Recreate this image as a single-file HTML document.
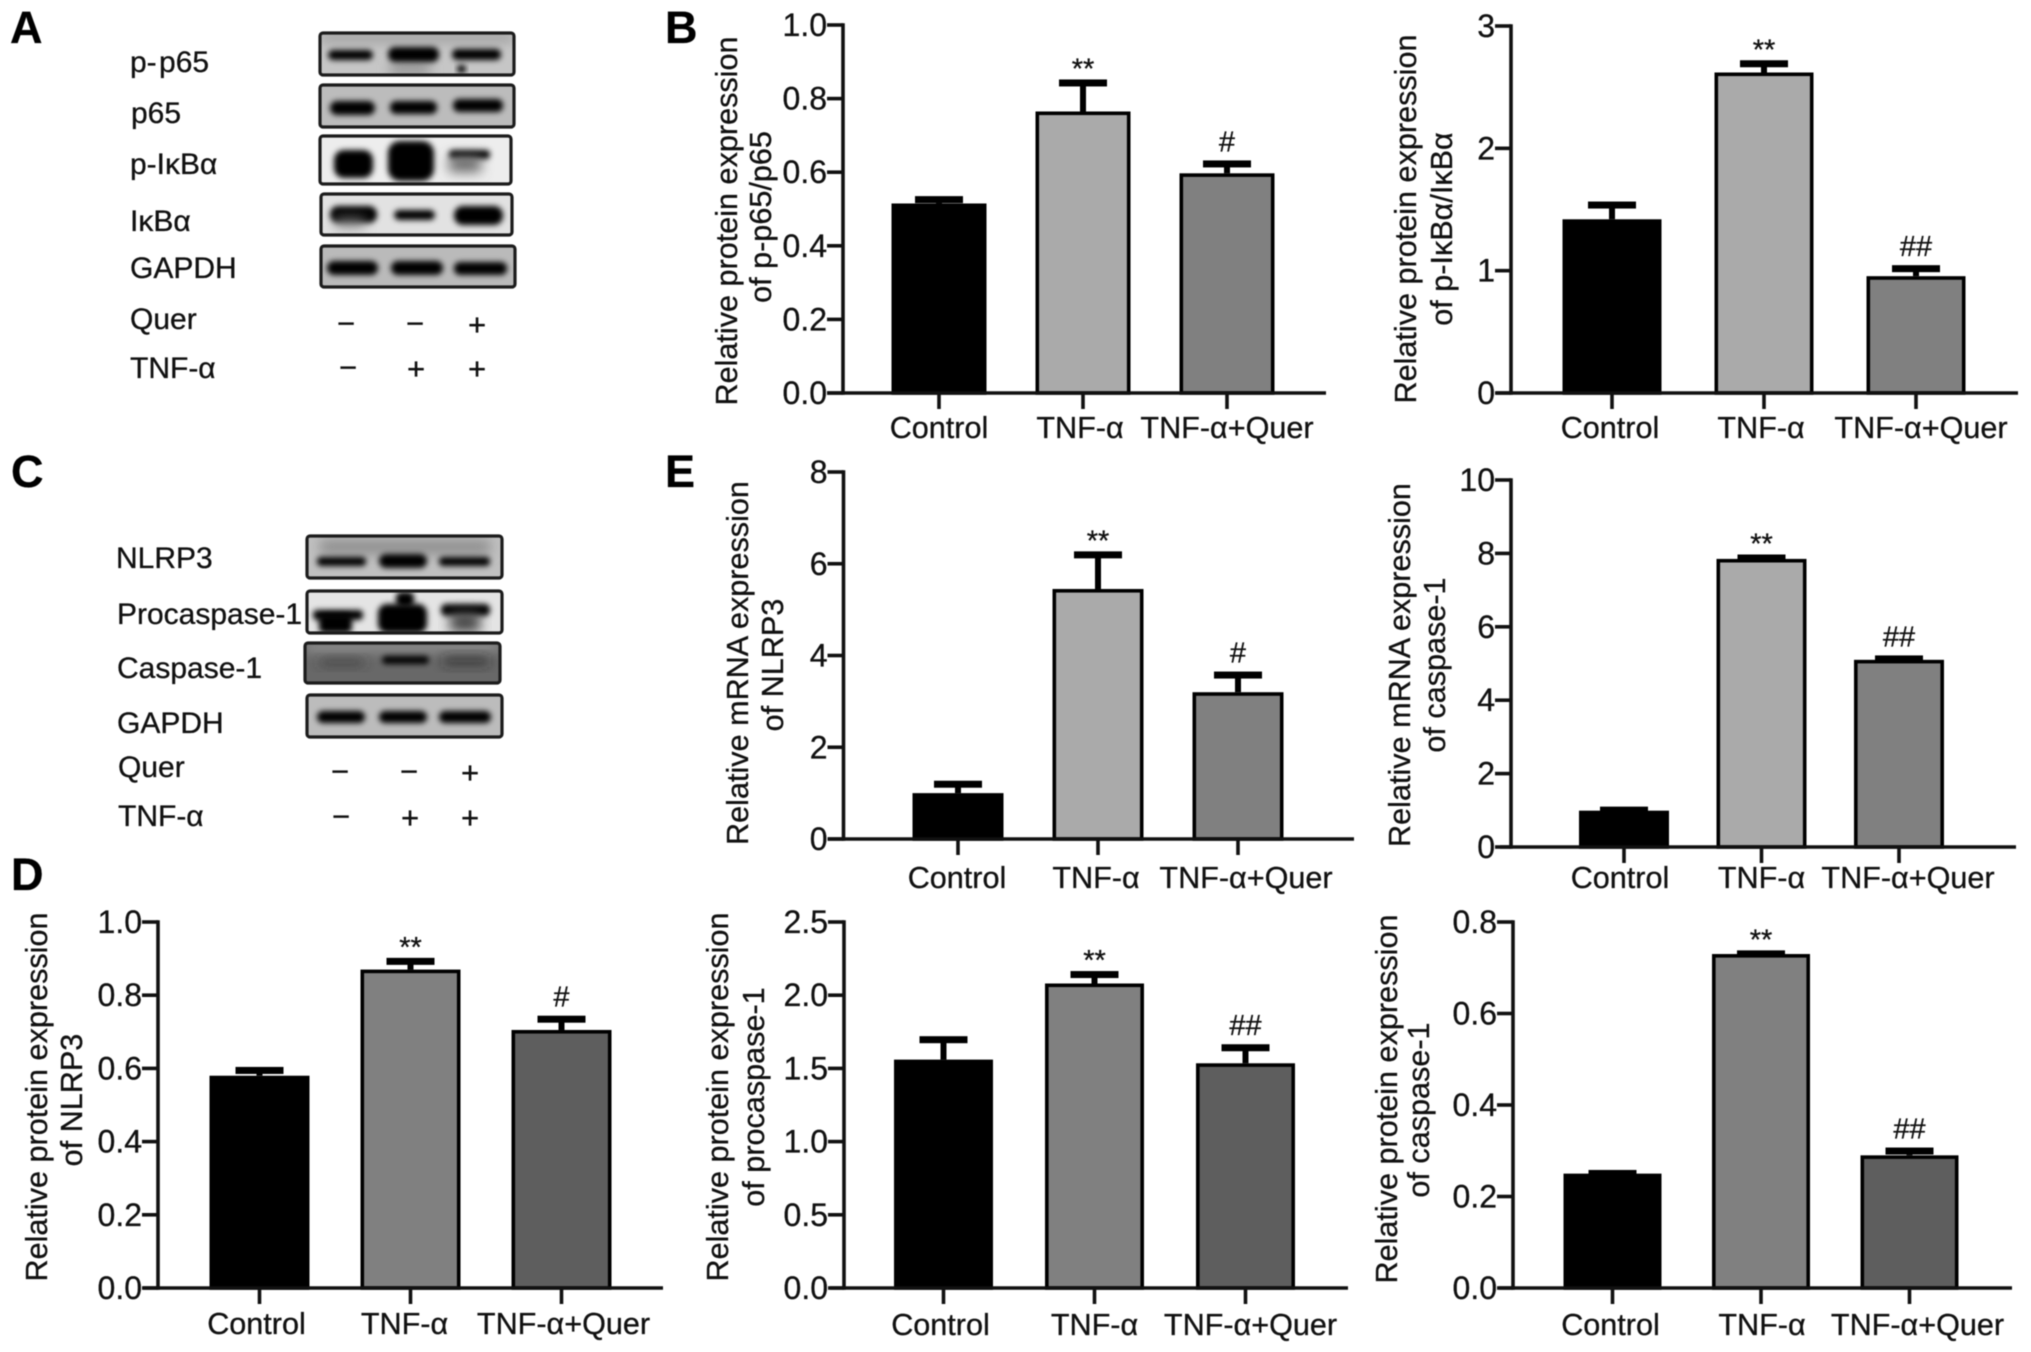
<!DOCTYPE html>
<html lang="en">
<head>
<meta charset="utf-8">
<title>Quercetin western blots and expression bar charts</title>
<style>
html,body{margin:0;padding:0;background:#fff;}
body{width:2031px;height:1352px;overflow:hidden;}
#figure{display:block;filter:blur(0.65px);}
text{font-family:"Liberation Sans","DejaVu Sans",sans-serif;fill:#111;stroke:#111;stroke-width:0.3;}
.letter{font-size:45px;font-weight:bold;fill:#000;}
.lab{font-size:30px;}
.sign{font-size:31px;text-anchor:middle;}
.box{fill:none;stroke:#1c1c1c;stroke-width:3.2;}
.band{fill:#000;filter:url(#bandBlur);}
.soft{filter:url(#softBlur);}
</style>
</head>
<body>
<svg id="figure" xmlns="http://www.w3.org/2000/svg" width="2031" height="1352" viewBox="0 0 2031 1352">
<defs>
<filter id="bandBlur" x="-30%" y="-120%" width="160%" height="340%"><feGaussianBlur stdDeviation="2.8"/></filter>
<filter id="softBlur" x="-40%" y="-150%" width="180%" height="400%"><feGaussianBlur stdDeviation="6"/></filter>
</defs>
<rect width="2031" height="1352" fill="#fff"/>

<text class="letter" x="10" y="43">A</text>
<text class="letter" x="665" y="43">B</text>
<text class="letter" x="11" y="487">C</text>
<text class="letter" x="11" y="890">D</text>
<text class="letter" x="665" y="487">E</text>

<!-- Panel A -->
<g>
<text class="lab" x="130" y="72" word-spacing="-6">p- p65</text>
<text class="lab" x="131" y="123">p65</text>
<text class="lab" x="130" y="174">p-IκBα</text>
<text class="lab" x="130" y="231">IκBα</text>
<text class="lab" x="130" y="278">GAPDH</text>
<text class="lab" x="130" y="329">Quer</text>
<text class="lab" x="130" y="378">TNF-α</text>

<g>
<svg x="320" y="33" width="194" height="42" viewBox="320 33 194 42">
<rect x="320" y="33" width="194" height="42" fill="#c6c6c6"/>
<rect class="soft" x="320" y="33" width="194" height="9" fill="#9a9a9a"/>
<rect class="soft" x="390" y="64" width="40" height="10" fill="#888"/>
<rect class="band" x="328" y="50" width="45" height="10" rx="5"/>
<rect class="band" x="388" y="47" width="51" height="15" rx="7"/>
<rect class="band" x="452" y="49" width="49" height="11" rx="5"/>
<rect class="band" x="457" y="65" width="9" height="8" rx="4"/>
</svg>
<rect class="box" x="320" y="33" width="194" height="42" rx="3"/>
</g>
<g>
<svg x="320" y="85" width="194" height="42" viewBox="320 85 194 42">
<rect x="320" y="85" width="194" height="42" fill="#bcbcbc"/>
<rect class="band" x="330" y="101" width="45" height="14" rx="7"/>
<rect class="band" x="390" y="101" width="47" height="13" rx="6"/>
<rect class="band" x="453" y="99" width="50" height="13" rx="6"/>
</svg>
<rect class="box" x="320" y="85" width="194" height="42" rx="3"/>
</g>
<g>
<svg x="320" y="136" width="191" height="48" viewBox="320 136 191 48">
<rect x="320" y="136" width="191" height="48" fill="#ededed"/>
<rect class="band" x="334" y="150" width="39" height="28" rx="10"/>
<rect class="band" x="388" y="141" width="46" height="40" rx="12"/>
<rect class="band" x="449" y="150" width="41" height="9" rx="4"/>
<rect class="soft" x="449" y="156" width="32" height="16" fill="#666"/>
</svg>
<rect class="box" x="320" y="136" width="191" height="48" rx="3"/>
</g>
<g>
<svg x="321" y="194" width="191" height="41" viewBox="321 194 191 41">
<rect x="321" y="194" width="191" height="41" fill="#e2e2e2"/>
<rect class="band" x="330" y="206" width="47" height="17" rx="8"/>
<rect class="soft" x="335" y="218" width="30" height="9" fill="#777"/>
<rect class="band" x="394" y="210" width="41" height="10" rx="5"/>
<rect class="band" x="454" y="206" width="49" height="19" rx="9"/>
</svg>
<rect class="box" x="321" y="194" width="191" height="41" rx="3"/>
</g>
<g>
<svg x="321" y="246" width="194" height="41" viewBox="321 246 194 41">
<rect x="321" y="246" width="194" height="41" fill="#bababa"/>
<rect class="band" x="327" y="261" width="51" height="14" rx="7"/>
<rect class="band" x="391" y="261" width="52" height="14" rx="7"/>
<rect class="band" x="454" y="262" width="53" height="13" rx="6"/>
</svg>
<rect class="box" x="321" y="246" width="194" height="41" rx="3"/>
</g>
<g>
<text class="sign" x="346" y="334">−</text>
<text class="sign" x="415" y="334">−</text>
<text class="sign" x="477" y="335">+</text>
<text class="sign" x="348" y="378">−</text>
<text class="sign" x="416" y="379">+</text>
<text class="sign" x="477" y="379">+</text>
</g>
</g>

<!-- Panel C -->
<g>
<text class="lab" x="116" y="568">NLRP3</text>
<text class="lab" x="117" y="624">Procaspase-1</text>
<text class="lab" x="117" y="678">Caspase-1</text>
<text class="lab" x="117" y="733">GAPDH</text>
<text class="lab" x="118" y="777">Quer</text>
<text class="lab" x="118" y="826">TNF-α</text>

<g>
<svg x="307" y="536" width="195" height="42" viewBox="307 536 195 42">
<rect x="307" y="536" width="195" height="42" fill="#c0c0c0"/>
<rect class="soft" x="320" y="540" width="170" height="14" fill="#8c8c8c"/>
<rect class="band" x="317" y="557" width="49" height="9" rx="4"/>
<rect class="band" x="379" y="554" width="48" height="14" rx="7"/>
<rect class="band" x="439" y="557" width="51" height="9" rx="4"/>
</svg>
<rect class="box" x="307" y="536" width="195" height="42" rx="3"/>
</g>
<g>
<svg x="307" y="591" width="195" height="42" viewBox="307 591 195 42">
<rect x="307" y="591" width="195" height="42" fill="#e4e4e4"/>
<rect class="band" x="313" y="610" width="50" height="10" rx="4"/>
<rect class="band" x="319" y="614" width="33" height="19" rx="5"/>
<rect class="band" x="378" y="604" width="49" height="29" rx="9"/>
<rect class="band" x="396" y="592" width="18" height="15" rx="5"/>
<rect class="band" x="441" y="604" width="49" height="12" rx="5"/>
<rect class="soft" x="450" y="612" width="30" height="20" fill="#444"/>
</svg>
<rect class="box" x="307" y="591" width="195" height="42" rx="3"/>
</g>
<g>
<svg x="305" y="643" width="195" height="40" viewBox="305 643 195 40">
<rect x="305" y="643" width="195" height="40" fill="#686868"/>
<rect class="soft" x="305" y="643" width="195" height="8" fill="#9c9c9c"/>
<rect class="soft" x="320" y="660" width="44" height="5" fill="#333"/>
<rect class="band" x="382" y="656" width="47" height="8" rx="4"/>
<rect class="soft" x="443" y="658" width="46" height="6" fill="#222"/>
</svg>
<rect class="box" x="305" y="643" width="195" height="40" rx="3"/>
</g>
<g>
<svg x="307" y="695" width="195" height="42" viewBox="307 695 195 42">
<rect x="307" y="695" width="195" height="42" fill="#bcbcbc"/>
<rect class="band" x="317" y="711" width="48" height="12" rx="6"/>
<rect class="band" x="379" y="711" width="48" height="12" rx="6"/>
<rect class="band" x="439" y="711" width="52" height="12" rx="6"/>
</svg>
<rect class="box" x="307" y="695" width="195" height="42" rx="3"/>
</g>
<g>
<text class="sign" x="340" y="782">−</text>
<text class="sign" x="409" y="782">−</text>
<text class="sign" x="470" y="783">+</text>
<text class="sign" x="341" y="827">−</text>
<text class="sign" x="410" y="828">+</text>
<text class="sign" x="470" y="828">+</text>
</g>
</g>

<g id="charts"></g>
</svg>

<script>
const categories = ['Control', 'TNF-α', 'TNF-α+Quer'];

const pP65Ticks = ['0.0', '0.2', '0.4', '0.6', '0.8', '1.0'];
const pP65Means = [0.515, 0.765, 0.597];
const pP65Errors = [0.02, 0.087, 0.035];
const pP65Marks = ['', '**', '#'];

const pIkbaTicks = ['0', '1', '2', '3'];
const pIkbaMeans = [1.42, 2.62, 0.955];
const pIkbaErrors = [0.145, 0.1, 0.09];
const pIkbaMarks = ['', '**', '##'];

const mrnaNlrp3Ticks = ['0', '2', '4', '6', '8'];
const mrnaNlrp3Means = [1.0, 5.45, 3.2];
const mrnaNlrp3Errors = [0.27, 0.82, 0.45];
const mrnaNlrp3Marks = ['', '**', '#'];

const mrnaCaspaseTicks = ['0', '2', '4', '6', '8', '10'];
const mrnaCaspaseMeans = [0.99, 7.85, 5.1];
const mrnaCaspaseErrors = [0.11, 0.12, 0.12];
const mrnaCaspaseMarks = ['', '**', '##'];

const nlrp3Ticks = ['0.0', '0.2', '0.4', '0.6', '0.8', '1.0'];
const nlrp3Means = [0.58, 0.87, 0.705];
const nlrp3Errors = [0.024, 0.032, 0.039];
const nlrp3Marks = ['', '**', '#'];

const procaspaseTicks = ['0.0', '0.5', '1.0', '1.5', '2.0', '2.5'];
const procaspaseMeans = [1.56, 2.08, 1.535];
const procaspaseErrors = [0.16, 0.085, 0.13];
const procaspaseMarks = ['', '**', '##'];

const caspaseTicks = ['0.0', '0.2', '0.4', '0.6', '0.8'];
const caspaseMeans = [0.25, 0.73, 0.29];
const caspaseErrors = [0.008, 0.008, 0.017];
const caspaseMarks = ['', '**', '##'];

const lightFills = ['#000000', '#aaaaaa', '#808080'];
const darkFills = ['#000000', '#808080', '#5e5e5e'];

const panels = [
  { name: 'p-p65', ticks: pP65Ticks, means: pP65Means, errors: pP65Errors, marks: pP65Marks, fills: lightFills,
    title: ['Relative protein expression', 'of p-p65/p65'],
    axisX: 843, top: 25, base: 393, left: 827, right: 1326, first: 939, step: 144, barW: 95,
    labelY: 438, labelDx: [0, -3, 0], titleX: [737, 771], titleY: [221, 217] },
  { name: 'p-ikba', ticks: pIkbaTicks, means: pIkbaMeans, errors: pIkbaErrors, marks: pIkbaMarks, fills: lightFills,
    title: ['Relative protein expression', 'of p-IκBα/IκBα'],
    axisX: 1511, top: 26, base: 393, left: 1496, right: 2018, first: 1612, step: 152, barW: 99,
    labelY: 438, labelDx: [-2, -3, 5], titleX: [1416, 1452], titleY: [219, 229] },
  { name: 'mrna-nlrp3', ticks: mrnaNlrp3Ticks, means: mrnaNlrp3Means, errors: mrnaNlrp3Errors, marks: mrnaNlrp3Marks, fills: lightFills,
    title: ['Relative mRNA expression', 'of NLRP3'],
    axisX: 843.5, top: 472, base: 839, left: 828, right: 1354, first: 958, step: 140, barW: 91,
    labelY: 888, labelDx: [-1, -2, 8], titleX: [748, 783], titleY: [663, 665] },
  { name: 'mrna-caspase-1', ticks: mrnaCaspaseTicks, means: mrnaCaspaseMeans, errors: mrnaCaspaseErrors, marks: mrnaCaspaseMarks, fills: lightFills,
    title: ['Relative mRNA expression', 'of caspase-1'],
    axisX: 1511, top: 480, base: 847, left: 1500, right: 2016, first: 1624, step: 137.5, barW: 90,
    labelY: 888, labelDx: [-4, 0, 9], titleX: [1410, 1445], titleY: [665, 665] },
  { name: 'nlrp3', ticks: nlrp3Ticks, means: nlrp3Means, errors: nlrp3Errors, marks: nlrp3Marks, fills: darkFills,
    title: ['Relative protein expression', 'of NLRP3'],
    axisX: 158, top: 922, base: 1288, left: 143, right: 663, first: 259.5, step: 151, barW: 100,
    labelY: 1334, labelDx: [-3, -6, 2], titleX: [47, 82], titleY: [1097, 1100] },
  { name: 'procaspase-1', ticks: procaspaseTicks, means: procaspaseMeans, errors: procaspaseErrors, marks: procaspaseMarks, fills: darkFills,
    title: ['Relative protein expression', 'of procaspase-1'],
    axisX: 844, top: 922, base: 1288, left: 830, right: 1348, first: 943.5, step: 151, barW: 99,
    labelY: 1335, labelDx: [-3, 0, 5], titleX: [728, 764], titleY: [1097, 1097] },
  { name: 'caspase-1', ticks: caspaseTicks, means: caspaseMeans, errors: caspaseErrors, marks: caspaseMarks, fills: darkFills,
    title: ['Relative protein expression', 'of caspase-1'],
    axisX: 1513, top: 922, base: 1288, left: 1499, right: 2012, first: 1612.5, step: 148.5, barW: 98,
    labelY: 1335, labelDx: [-2, 1, 8], titleX: [1397, 1429], titleY: [1099, 1110] }
];

const SVG_NS = 'http://www.w3.org/2000/svg';
const LABEL_SIZE = 30.6;
const TICK_SIZE = 32;
const LINE = 3.6;

function make(tag, attrs, parent) {
  const node = document.createElementNS(SVG_NS, tag);
  Object.keys(attrs).forEach(function (key) { node.setAttribute(key, attrs[key]); });
  parent.appendChild(node);
  return node;
}

function yScale(panel) {
  const maxTick = parseFloat(panel.ticks[panel.ticks.length - 1]);
  return function (value) {
    return panel.base - (value / maxTick) * (panel.base - panel.top);
  };
}

function xScale(panel) {
  return function (index) { return panel.first + index * panel.step; };
}

function drawPanel(panel, root) {
  const y = yScale(panel);
  const x = xScale(panel);

  const chart = make('g', {}, root);
  
  

  panel.means.forEach(function (mean, i) {
    const cx = x(i);
    const capTop = y(mean + panel.errors[i]);
    const stem = make('line', { x1: cx, x2: cx, y1: capTop + 3, y2: y(mean), stroke: '#000', 'stroke-width': 6 }, chart);
    
    

    const cap = make('rect', { x: cx - 24, y: capTop, width: 48, height: 7, fill: '#000' }, chart);
    
    

    const bar = make('rect', {
      x: cx - panel.barW / 2 + LINE / 2,
      y: y(mean) + LINE / 2,
      width: panel.barW - LINE,
      height: Math.max(0, panel.base - y(mean) - LINE / 2),
      fill: panel.fills[i],
      stroke: '#000',
      'stroke-width': LINE
    }, chart);
    
    

    const tick = make('line', { x1: cx, x2: cx, y1: panel.base, y2: panel.base + 16, stroke: '#111', 'stroke-width': LINE }, chart);
    
    

    const label = make('text', { x: cx + panel.labelDx[i], y: panel.labelY, 'text-anchor': 'middle', 'font-size': LABEL_SIZE }, chart);
    label.textContent = categories[i];
    
    

    if (panel.marks[i]) {
      const isStar = panel.marks[i].charAt(0) === '*';
      const mark = make('text', { x: cx, y: capTop - (isStar ? 1 : 9), 'text-anchor': 'middle', 'font-size': 29 }, chart);
      mark.textContent = panel.marks[i];
      
      
    }
  });

  panel.ticks.forEach(function (tickText) {
    const ty = y(parseFloat(tickText));
    const tick = make('line', { x1: panel.axisX - 16, x2: panel.axisX, y1: ty, y2: ty, stroke: '#111', 'stroke-width': LINE }, chart);
    
    

    const label = make('text', { x: panel.axisX - 16, y: ty + 11, 'text-anchor': 'end', 'font-size': TICK_SIZE }, chart);
    label.textContent = tickText;
    
    
  });

  const yAxis = make('line', { x1: panel.axisX, x2: panel.axisX, y1: panel.top - LINE / 2, y2: panel.base + LINE / 2, stroke: '#111', 'stroke-width': LINE }, chart);
  
  

  const xAxis = make('line', { x1: panel.left, x2: panel.right, y1: panel.base, y2: panel.base, stroke: '#111', 'stroke-width': LINE }, chart);
  
  

  panel.title.forEach(function (line, i) {
    const title = make('text', {
      x: panel.titleX[i],
      y: panel.titleY[i],
      'text-anchor': 'middle',
      'font-size': 30.6,
      transform: 'rotate(-90 ' + panel.titleX[i] + ' ' + panel.titleY[i] + ')'
    }, chart);
    title.textContent = line;
    
    
  });
}

const chartsRoot = document.getElementById('charts');
panels.forEach(function (panel) { drawPanel(panel, chartsRoot); });
</script>
</body>
</html>
